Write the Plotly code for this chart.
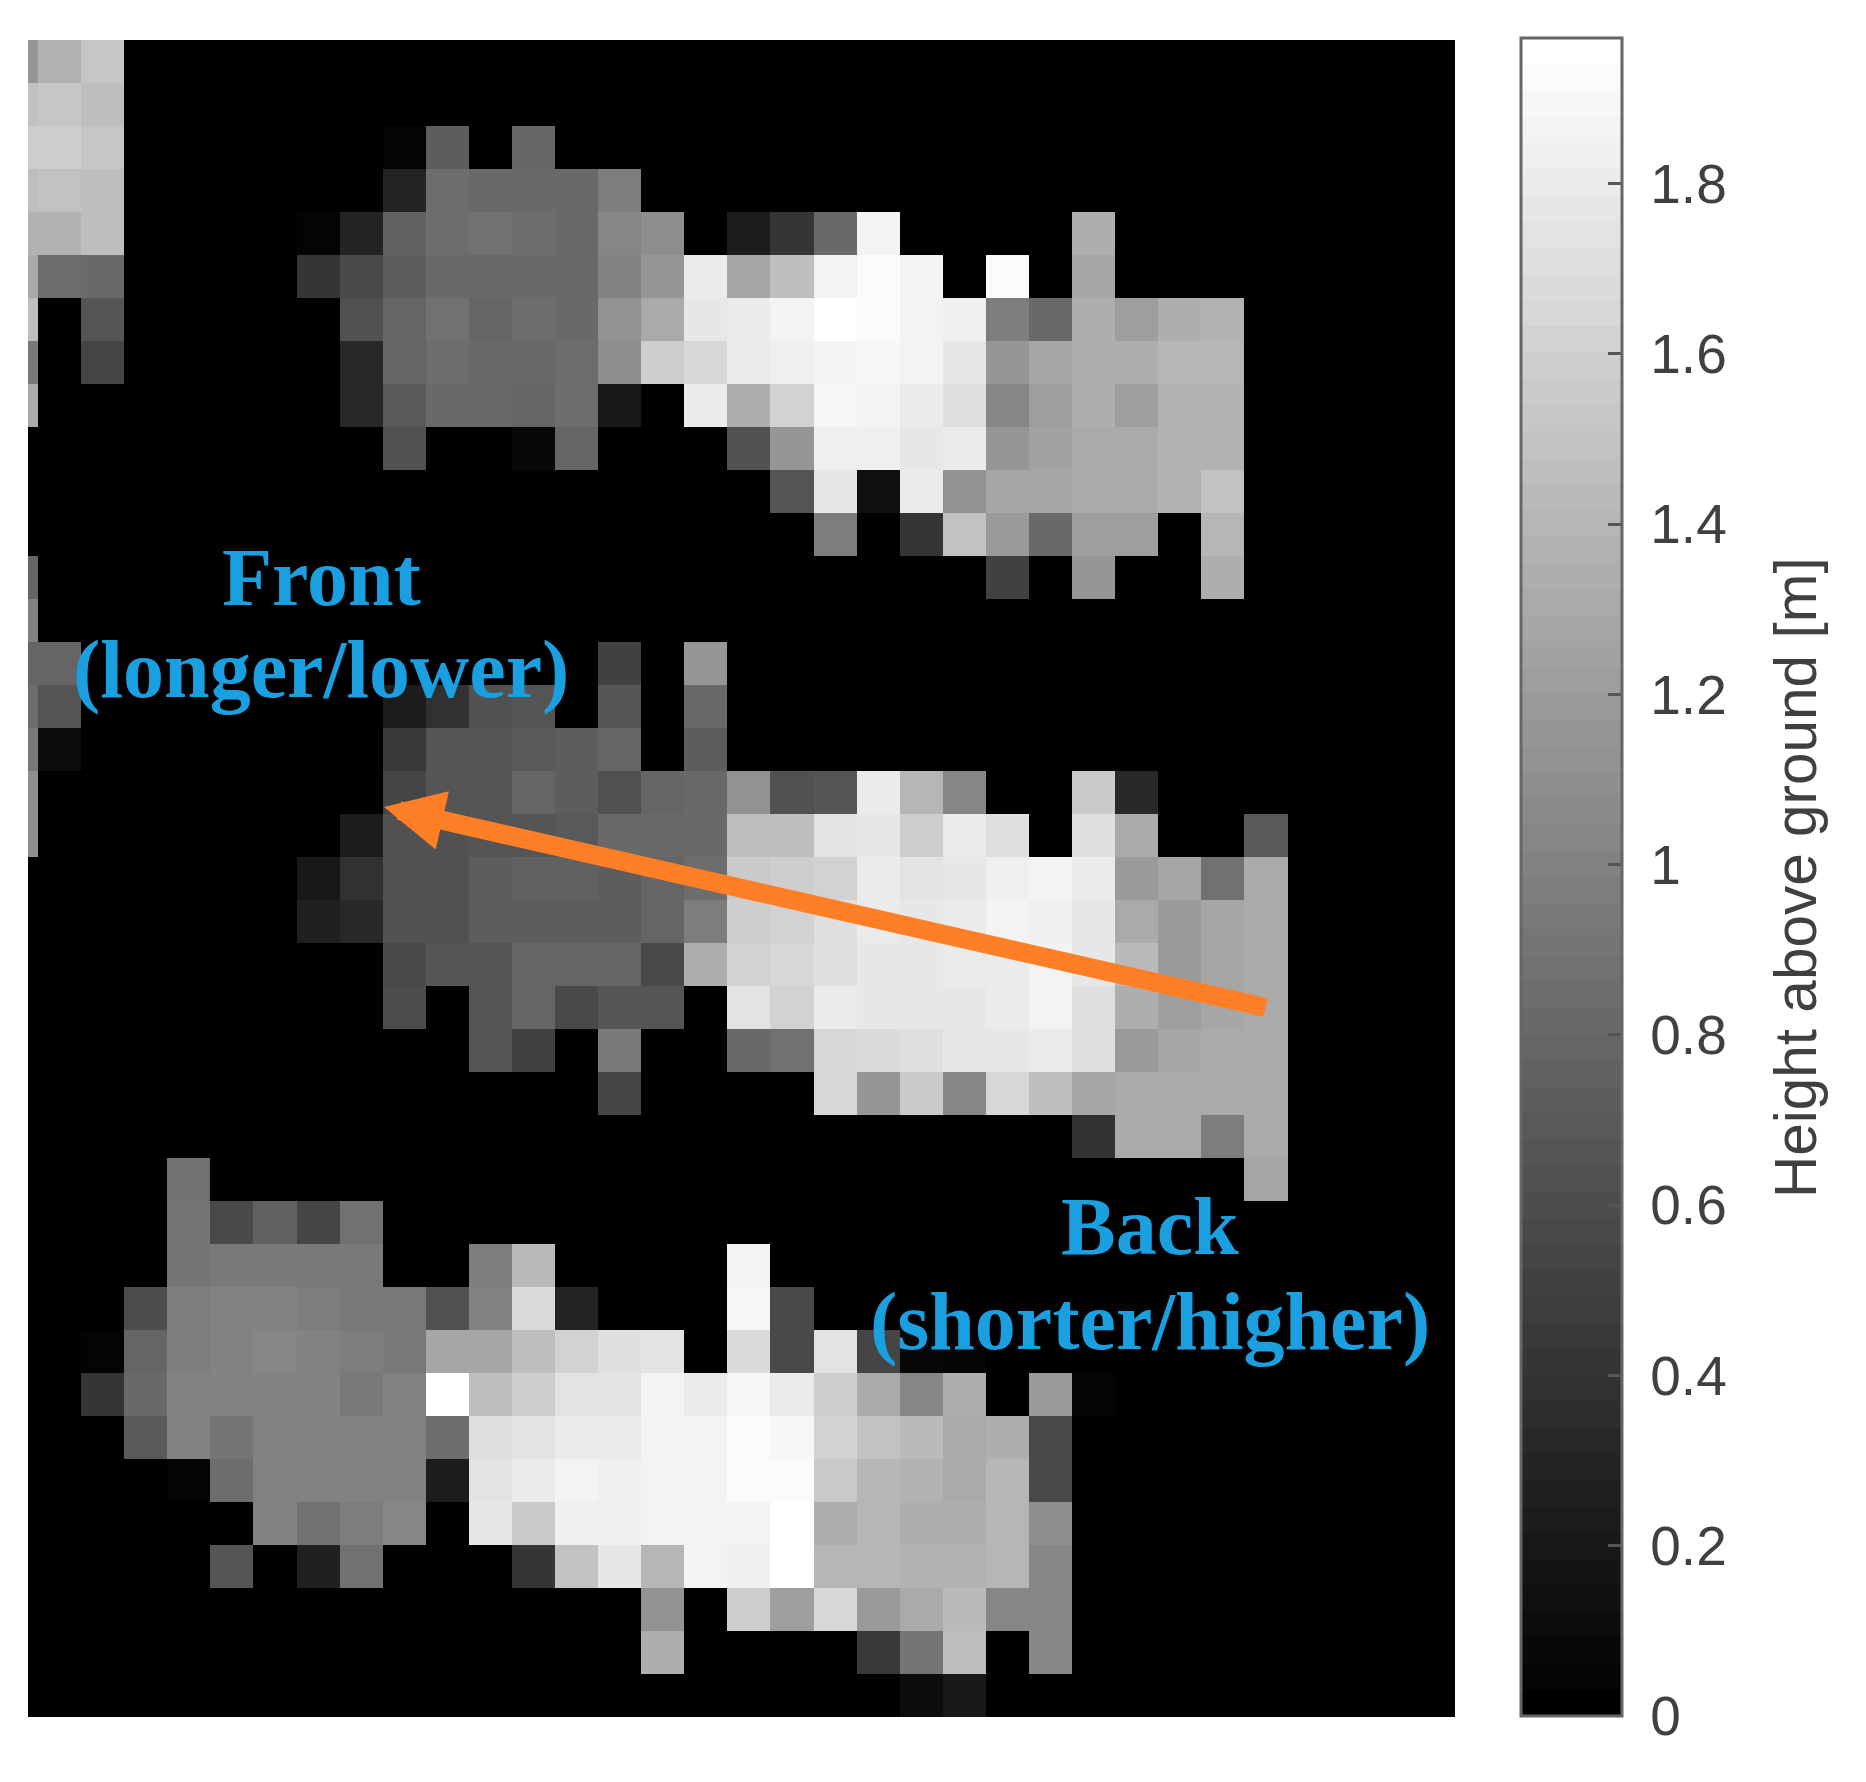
#!/usr/bin/env python3
"""Height-above-ground map of three vehicles, front/back annotated."""

import plotly.graph_objects as go

# Heights in metres, one list per image row, columns left to right.
# Trailing zeros are left out and padded below.
row_00 = [1.16, 1.37, 1.53]
row_01 = [1.50, 1.53, 1.47]
row_02 = [1.58, 1.58, 1.53, 0, 0, 0, 0, 0, 0, .04, .73, 0, .77]
row_03 = [1.47, 1.48, 1.47, 0, 0, 0, 0, 0, 0, .29, .85, .83, .81, .83, .96]
row_04 = [1.37, 1.37, 1.47, 0, 0, 0, 0, .04, .29, .76, .85, .89, .85, .83, 1.04, 1.08, 0, .22, .42, .81, 1.85, 0, 0, 0, 0, 1.35]
row_05 = [1.31, .86, .81, 0, 0, 0, 0, .42, .58, .73, .83, .81, .81, .81, 1.00, 1.16, 1.79, 1.27, 1.47, 1.85, 1.91, 1.85, 0, 1.91, 0, 1.27]
row_06 = [1.47, 0, .66, 0, 0, 0, 0, .02, .62, .77, .89, .80, .86, .83, 1.12, 1.31, 1.78, 1.81, 1.85, 1.97, 1.91, 1.85, 1.84, .96, .81, 1.35, 1.23, 1.35, 1.37]
row_07 = [.93, 0, .54, 0, 0, 0, 0, 0, .31, .77, .86, .83, .81, .86, 1.08, 1.58, 1.66, 1.79, 1.83, 1.85, 1.89, 1.85, 1.78, 1.16, 1.27, 1.35, 1.35, 1.39, 1.40]
row_08 = [1.31, 0, 0, 0, 0, 0, 0, 0, .32, .69, .81, .81, .79, .85, .19, 0, 1.79, 1.35, 1.62, 1.88, 1.85, 1.81, 1.70, 1.04, 1.23, 1.33, 1.23, 1.37, 1.37]
row_09 = [0, 0, 0, 0, 0, 0, 0, 0, 0, .62, 0, 0, .08, .77, 0, 0, 0, .63, 1.16, 1.84, 1.84, 1.78, 1.79, 1.16, 1.25, 1.31, 1.30, 1.37, 1.37]
row_10 = [0, 0, 0, 0, 0, 0, 0, 0, 0, 0, 0, 0, 0, 0, 0, 0, 0, 0, .66, 1.78, .14, 1.81, 1.12, 1.27, 1.27, 1.30, 1.31, 1.37, 1.50]
row_11 = [0, 0, 0, 0, 0, 0, 0, 0, 0, 0, 0, 0, 0, 0, 0, 0, 0, 0, 0, .96, 0, .42, 1.50, 1.20, .81, 1.23, 1.23, 0, 1.39]
row_12 = [.77, 0, 0, 0, 0, 0, 0, 0, 0, 0, 0, 0, 0, 0, 0, 0, 0, 0, 0, 0, 0, 0, 0, .50, 0, 1.16, 0, 0, 1.35]
row_13 = [1.00]
row_14 = [.77, .77, 0, 0, 0, 0, 0, 0, 0, 0, 0, 0, 0, 0, .50, 0, 1.16]
row_15 = [.85, .66, 0, 0, 0, 0, 0, 0, 0, .22, .39, .62, .66, 0, .66, 0, .81]
row_16 = [.93, .12, 0, 0, 0, 0, 0, 0, 0, .46, .66, .66, .69, .71, .77, 0, .73]
row_17 = [1.08, 0, 0, 0, 0, 0, 0, 0, 0, .54, .66, .66, .77, .73, .62, .77, .81, 1.12, .62, .66, 1.79, 1.39, 1.04, 0, 0, 1.54, .32]
row_18 = [1.08, 0, 0, 0, 0, 0, 0, 0, .22, .62, .62, .66, .66, .69, .81, .81, .81, 1.47, 1.47, 1.74, 1.78, 1.58, 1.81, 1.70, 0, 1.71, 1.31, 0, 0, .69]
row_19 = [0, 0, 0, 0, 0, 0, 0, .19, .39, .63, .63, .73, .76, .76, .73, .77, .85, 1.54, 1.58, 1.62, 1.79, 1.74, 1.76, 1.84, 1.85, 1.79, 1.20, 1.27, .89, 1.31]
row_20 = [0, 0, 0, 0, 0, 0, 0, .25, .32, .63, .63, .73, .73, .73, .73, .77, .96, 1.58, 1.62, 1.70, 1.79, 1.76, 1.79, 1.85, 1.84, 1.78, 1.31, 1.20, 1.27, 1.31]
row_21 = [0, 0, 0, 0, 0, 0, 0, 0, 0, .58, .66, .66, .77, .77, .77, .58, 1.35, 1.62, 1.66, 1.70, 1.76, 1.76, 1.79, 1.81, 1.85, 1.76, 1.43, 1.20, 1.27, 1.31]
row_22 = [0, 0, 0, 0, 0, 0, 0, 0, 0, .60, 0, .66, .77, .56, .66, .66, 0, 1.74, 1.62, 1.81, 1.76, 1.78, 1.78, 1.79, 1.85, 1.70, 1.35, 1.23, 1.27, 1.31]
row_23 = [0, 0, 0, 0, 0, 0, 0, 0, 0, 0, 0, .66, .50, 0, .93, 0, 0, .81, .89, 1.64, 1.68, 1.71, 1.76, 1.78, 1.81, 1.70, 1.20, 1.27, 1.30, 1.31]
row_24 = [0, 0, 0, 0, 0, 0, 0, 0, 0, 0, 0, 0, 0, 0, .54, 0, 0, 0, 0, 1.66, 1.16, 1.54, 1.04, 1.66, 1.47, 1.27, 1.30, 1.30, 1.30, 1.31]
row_25 = [0, 0, 0, 0, 0, 0, 0, 0, 0, 0, 0, 0, 0, 0, 0, 0, 0, 0, 0, 0, 0, 0, 0, 0, 0, .39, 1.30, 1.30, .96, 1.31]
row_26 = [0, 0, 0, 0, .89, 0, 0, 0, 0, 0, 0, 0, 0, 0, 0, 0, 0, 0, 0, 0, 0, 0, 0, 0, 0, 0, 0, 0, 0, 1.27]
row_27 = [0, 0, 0, 0, .91, .56, .76, .54, .89]
row_28 = [0, 0, 0, 0, .91, .94, .94, .94, .94, 0, 0, .96, 1.43, 0, 0, 0, 0, 1.85, .02]
row_29 = [0, 0, 0, .60, .96, .99, .99, .96, .94, .93, .63, .99, 1.68, .29, 0, 0, 0, 1.89, .56]
row_30 = [0, 0, .04, .77, .96, 1.00, 1.02, .99, .96, .94, 1.27, 1.27, 1.47, 1.62, 1.71, 1.74, 0, 1.68, .56, 1.74, .54, .08, .06]
row_31 = [0, 0, .42, .81, .99, 1.00, 1.00, 1.00, .94, .99, 1.97, 1.47, 1.58, 1.74, 1.74, 1.85, 1.81, 1.89, 1.79, 1.58, 1.31, 1.04, 1.35, 0, 1.20, .04]
row_32 = [0, 0, 0, .69, 1.00, .91, 1.00, .99, .99, .99, .85, 1.70, 1.74, 1.81, 1.81, 1.85, 1.85, 1.91, 1.89, 1.62, 1.50, 1.43, 1.31, 1.35, .56]
row_33 = [0, 0, 0, 0, .04, .86, 1.00, 1.00, .99, 1.00, .23, 1.74, 1.79, 1.85, 1.84, 1.87, 1.87, 1.91, 1.93, 1.54, 1.39, 1.37, 1.31, 1.39, .56]
row_34 = [0, 0, 0, 0, 0, 0, 1.00, .89, .96, 1.04, 0, 1.76, 1.54, 1.84, 1.84, 1.85, 1.87, 1.87, 1.95, 1.35, 1.39, 1.35, 1.35, 1.39, 1.08]
row_35 = [0, 0, 0, 0, 0, .66, 0, .25, .89, 0, 0, 0, .42, 1.50, 1.78, 1.39, 1.85, 1.84, 1.97, 1.39, 1.39, 1.37, 1.37, 1.39, 1.04]
row_36 = [0, 0, 0, 0, 0, 0, 0, 0, 0, 0, 0, 0, 0, 0, 0, 1.12, 0, 1.58, 1.23, 1.66, 1.20, 1.31, 1.43, 1.04, 1.04]
row_37 = [0, 0, 0, 0, 0, 0, 0, 0, 0, 0, 0, 0, 0, 0, 0, 1.35, 0, 0, 0, 0, .45, .91, 1.45, 0, 1.04]
row_38 = [0, 0, 0, 0, 0, 0, 0, 0, 0, 0, 0, 0, 0, 0, 0, 0, 0, 0, 0, 0, 0, .12, .19]

all_rows = [
    row_00, row_01, row_02, row_03, row_04, row_05, row_06, row_07, row_08, row_09,
    row_10, row_11, row_12, row_13, row_14, row_15, row_16, row_17, row_18, row_19,
    row_20, row_21, row_22, row_23, row_24, row_25, row_26, row_27, row_28, row_29,
    row_30, row_31, row_32, row_33, row_34, row_35, row_36, row_37, row_38,
]

colorbar_ticks = [0, 0.2, 0.4, 0.6, 0.8, 1, 1.2, 1.4, 1.6, 1.8]
colorbar_labels = ["0", "0.2", "0.4", "0.6", "0.8", "1", "1.2", "1.4", "1.6", "1.8"]

N_COLS = 34
Z_MAX = 1.971

# The page adds an 8px body margin, so the figure is sized and laid out without it
PAGE_MARGIN = 8
WIDTH, HEIGHT = 1850, 1766
PLOT_L, PLOT_R = 28 - PAGE_MARGIN, 1455 - PAGE_MARGIN
PLOT_T, PLOT_B = 40 - PAGE_MARGIN, 1717 - PAGE_MARGIN


def paper_x(px):
    return (px - PAGE_MARGIN - PLOT_L) / (PLOT_R - PLOT_L)


def paper_y(px):
    return 1 - (px - PAGE_MARGIN - PLOT_T) / (PLOT_B - PLOT_T)


z = [row + [0] * (N_COLS - len(row)) for row in all_rows]

# MATLAB style gray colormap, 64 flat levels
levels = 64
gray_scale = []
for i in range(levels):
    g = round(255 * i / (levels - 1))
    color = f"rgb({g},{g},{g})"
    gray_scale.append([i / levels, color])
    gray_scale.append([(i + 1) / levels, color])

fig = go.Figure(go.Heatmap(
    z=z,
    x=list(range(N_COLS)),
    y=list(range(len(z))),
    zmin=0,
    zmax=Z_MAX,
    colorscale=gray_scale,
    hoverinfo="skip",
    colorbar=dict(
        x=paper_x(1521), xanchor="left", xpad=0,
        y=paper_y(38), yanchor="top", ypad=0,
        thicknessmode="pixels", thickness=101,
        lenmode="pixels", len=1678,
        outlinecolor="#666666", outlinewidth=3,
        tickmode="array", tickvals=colorbar_ticks,
        # leading space pushes the labels away from the bar
        ticktext=["\u00a0" + t for t in colorbar_labels],
        ticks="inside", ticklen=15, tickwidth=3, tickcolor="#555555",
        tickfont=dict(family="Liberation Sans", size=55, color="#404040"),
    ),
))

BLUE = "#1a9fe0"
ORANGE = "#ff7f27"
SERIF = "Liberation Serif"


def label(x, y, text):
    fig.add_annotation(
        x=x, y=y, text=f"<b>{text}</b>", showarrow=False,
        font=dict(family=SERIF, size=82, color=BLUE),
    )


label(7.07, 12.00, "Front")
label(7.07, 14.14, "(longer/lower)")
label(26.31, 27.09, "Back")
label(26.31, 29.31, "(shorter/higher)")

# Arrow runs from the back of the middle vehicle to its front
fig.add_annotation(
    x=8.53, y=17.34, ax=29.03, ay=22.01,
    xref="x", yref="y", axref="x", ayref="y",
    text="", showarrow=True,
    arrowhead=2, arrowsize=0.63, arrowwidth=19, arrowcolor=ORANGE,
)

# Colorbar title reads bottom to top, which the colorbar's own title cannot do
fig.add_annotation(
    xref="paper", yref="paper",
    x=paper_x(1795), y=paper_y(878), xanchor="center", yanchor="middle",
    text="Height above ground [m]", textangle=-90, showarrow=False,
    font=dict(family="Liberation Sans", size=58.5, color="#404040"),
)

fig.update_xaxes(range=[0.268, 33.39], visible=False, constrain="domain")
fig.update_yaxes(range=[38.5, -0.5], visible=False)
fig.update_layout(
    width=WIDTH,
    height=HEIGHT,
    margin=dict(l=PLOT_L, r=WIDTH - PLOT_R, t=PLOT_T, b=HEIGHT - PLOT_B),
    paper_bgcolor="white",
    plot_bgcolor="black",
    showlegend=False,
)

fig.write_html("out.html")
